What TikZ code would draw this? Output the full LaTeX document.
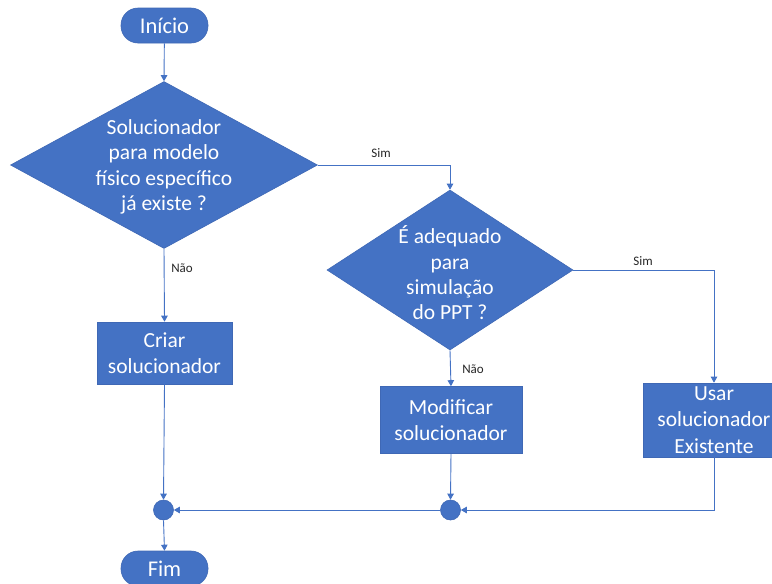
\documentclass[tikz,border=0pt]{standalone}
\usepackage{fontspec}
\setmainfont{Carlito}
\usetikzlibrary{shapes.geometric,arrows.meta}
\definecolor{flowblue}{HTML}{4472C4}
\definecolor{flowedge}{HTML}{3F68B5}
\begin{document}
\begin{tikzpicture}[x=1pt,y=-1pt,
  terminal/.style={draw=flowedge,line width=0.6pt,fill=flowblue,rounded corners=17pt,
    minimum width=87pt,minimum height=35pt,inner sep=0pt,text=white,
    font=\fontsize{22.5}{26}\selectfont},
  decision/.style={draw=flowedge,line width=0.6pt,fill=flowblue,diamond,inner sep=0pt},
  decisiontext/.style={text=white,align=center,font=\fontsize{21.5}{25.3}\selectfont},
  process/.style={draw=flowedge,line width=0.6pt,fill=flowblue,inner sep=0pt,text=white,
    align=center,font=\fontsize{21.5}{26.5}\selectfont},
  junction/.style={circle,draw=flowedge,line width=0.6pt,fill=flowblue,minimum size=20pt,inner sep=0pt},
  flow/.style={draw=flowblue,line width=0.9pt,-{Triangle[length=6pt,width=6.5pt]}},
  edgelabel/.style={font=\fontsize{13}{15}\selectfont,text=black!85}]
\useasboundingbox (0,0) rectangle (772,584);

% start and end
\node[terminal] (inicio) at (164.5,25.5) {Início};
\node[terminal] (fim) at (164.5,568.5) {Fim};

% decisions
\node[decision,minimum width=307pt,minimum height=167pt] (d1) at (164,165) {};
\node[decisiontext] (d1t) at (164,167) {Solucionador\\para modelo\\físico específico\\já existe ?};
\node[decision,minimum width=246pt,minimum height=160pt] (d2) at (450,270) {};
\node[decisiontext] (d2t) at (450,273) {É adequado\\para\\simulação\\do PPT ?};

% actions
\node[process,minimum width=135pt,minimum height=62pt] (criar) at (164.5,353) {Criar\\solucionador};
\node[process,minimum width=142pt,minimum height=67pt] (modif) at (451,420) {Modificar\\solucionador};
\node[process,minimum width=142pt,minimum height=74pt] (usar) at (714,420) {Usar\\solucionador\\Existente};

% merge points
\node[junction] (c1) at (163.5,510) {};
\node[junction] (c2) at (450.5,510) {};

% connectors
\draw[flow] (inicio) -- (d1.north);
\draw[flow] (d1.east) -| (d2.north);
\draw[flow] (d1.south) -- (criar.north);
\draw[flow] (d2.south) -- (modif.north);
\draw[flow] (d2.east) -| (usar.north);
\draw[flow] (criar.south) -- (c1.north);
\draw[flow] (modif.south) -- (c2.north);
\draw[flow] (usar.south) |- (c2.east);
\draw[flow] (c2.west) -- (c1.east);
\draw[flow] (c1.south) -- (fim.north);

% branch labels
\node[edgelabel] (l1) at (381,153) {Sim};
\node[edgelabel] (l2) at (182,268) {Não};
\node[edgelabel] (l3) at (643,261) {Sim};
\node[edgelabel] (l4) at (473,369) {Não};
\end{tikzpicture}
\end{document}
